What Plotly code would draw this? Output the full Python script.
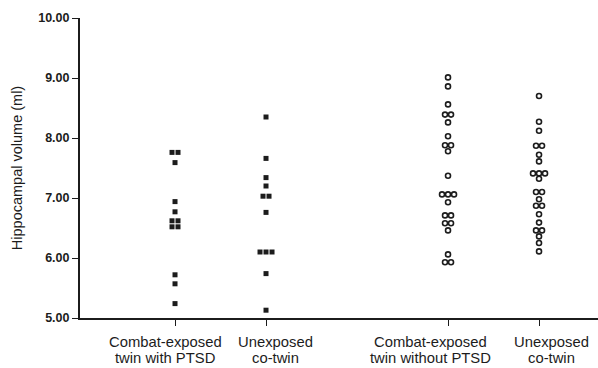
import plotly.graph_objects as go
from collections import Counter

# Category labels and positions
categories = ["Combat-exposed<br>twin with PTSD", "Unexposed<br>co-twin",
              "Combat-exposed<br>twin without PTSD", "Unexposed<br>co-twin"]
cat_pos = [1, 2, 4, 5]

# Hippocampal volumes (ml)
ptsd_twin = [7.76, 7.76, 7.59, 6.94, 6.77, 6.62, 6.62, 6.52, 6.52, 5.72, 5.57, 5.24]
ptsd_cotwin = [8.35, 7.66, 7.34, 7.20, 7.03, 7.03, 6.76, 6.10, 6.10, 6.10, 5.74, 5.13]
noptsd_twin = [9.01, 8.86, 8.56, 8.39, 8.39, 8.26, 8.03, 7.88, 7.88, 7.78, 7.37,
               7.06, 7.06, 7.06, 6.93, 6.71, 6.71, 6.58, 6.58, 6.46, 6.06, 5.93, 5.93]
noptsd_cotwin = [8.70, 8.27, 8.12, 7.87, 7.87, 7.72, 7.61, 7.41, 7.41, 7.41, 7.32,
                 7.10, 7.10, 6.98, 6.87, 6.87, 6.73, 6.59, 6.46, 6.46, 6.36, 6.25, 6.11]

y_ticks = [5, 6, 7, 8, 9, 10]

INK = "#1c1c1c"
SPREAD = 0.066  # horizontal separation of tied values (x units)
LABEL_SHIFT = [-10, 9, -18, 12]  # label offsets (px) as in the original layout
LINE_SHIFT = [-24, -40]          # vertical position of each label line (px)


def spread_x(center, values):
    counts = Counter(values)
    seen = Counter()
    xs = []
    for v in values:
        n = counts[v]
        i = seen[v]
        seen[v] += 1
        xs.append(center + (i - (n - 1) / 2) * SPREAD)
    return xs


fig = go.Figure()
groups = [ptsd_twin, ptsd_cotwin, noptsd_twin, noptsd_cotwin]
for k, (pos, vals) in enumerate(zip(cat_pos, groups)):
    if k < 2:
        marker = dict(symbol="square", size=5, color=INK, line=dict(width=0))
    else:
        marker = dict(symbol="circle", size=5, color="white",
                      line=dict(color=INK, width=1.6))
    fig.add_trace(go.Scatter(x=spread_x(pos, vals), y=vals, mode="markers",
                             marker=marker, showlegend=False, hoverinfo="y"))

for pos, label, dx in zip(cat_pos, categories, LABEL_SHIFT):
    for line, dy in zip(label.split("<br>"), LINE_SHIFT):
        fig.add_annotation(x=pos, xref="x", y=0, yref="paper", text=line,
                           showarrow=False, xanchor="center", yanchor="middle",
                           xshift=dx, yshift=dy, align="center",
                           font=dict(size=14.8, color=INK))

fig.update_layout(
    width=598, height=368,
    margin=dict(l=80, r=0, t=18, b=50),
    paper_bgcolor="white", plot_bgcolor="white",
    font=dict(family="Liberation Sans, Arial, sans-serif", color=INK),
)
fig.update_xaxes(
    range=[-0.044, 5.648], tickvals=cat_pos, ticktext=["", "", "", ""],
    tickangle=0, automargin=False,
    showline=True, linecolor=INK, linewidth=2,
    ticks="outside", ticklen=6, tickcolor=INK, tickwidth=1,
    showgrid=False, zeroline=False,
)
fig.update_yaxes(
    range=[5, 10], tickvals=y_ticks, automargin=False,
    ticktext=[f"<b>{v:.2f}</b>" for v in y_ticks],
    showline=True, linecolor=INK, linewidth=2,
    ticks="outside", ticklen=6, tickcolor=INK, tickwidth=1,
    showgrid=False, zeroline=False,
    tickfont=dict(size=12.5, color=INK),
    title=dict(text="Hippocampal volume (ml)", font=dict(size=14.5, color=INK), standoff=12),
)

fig.write_html("out.html")
